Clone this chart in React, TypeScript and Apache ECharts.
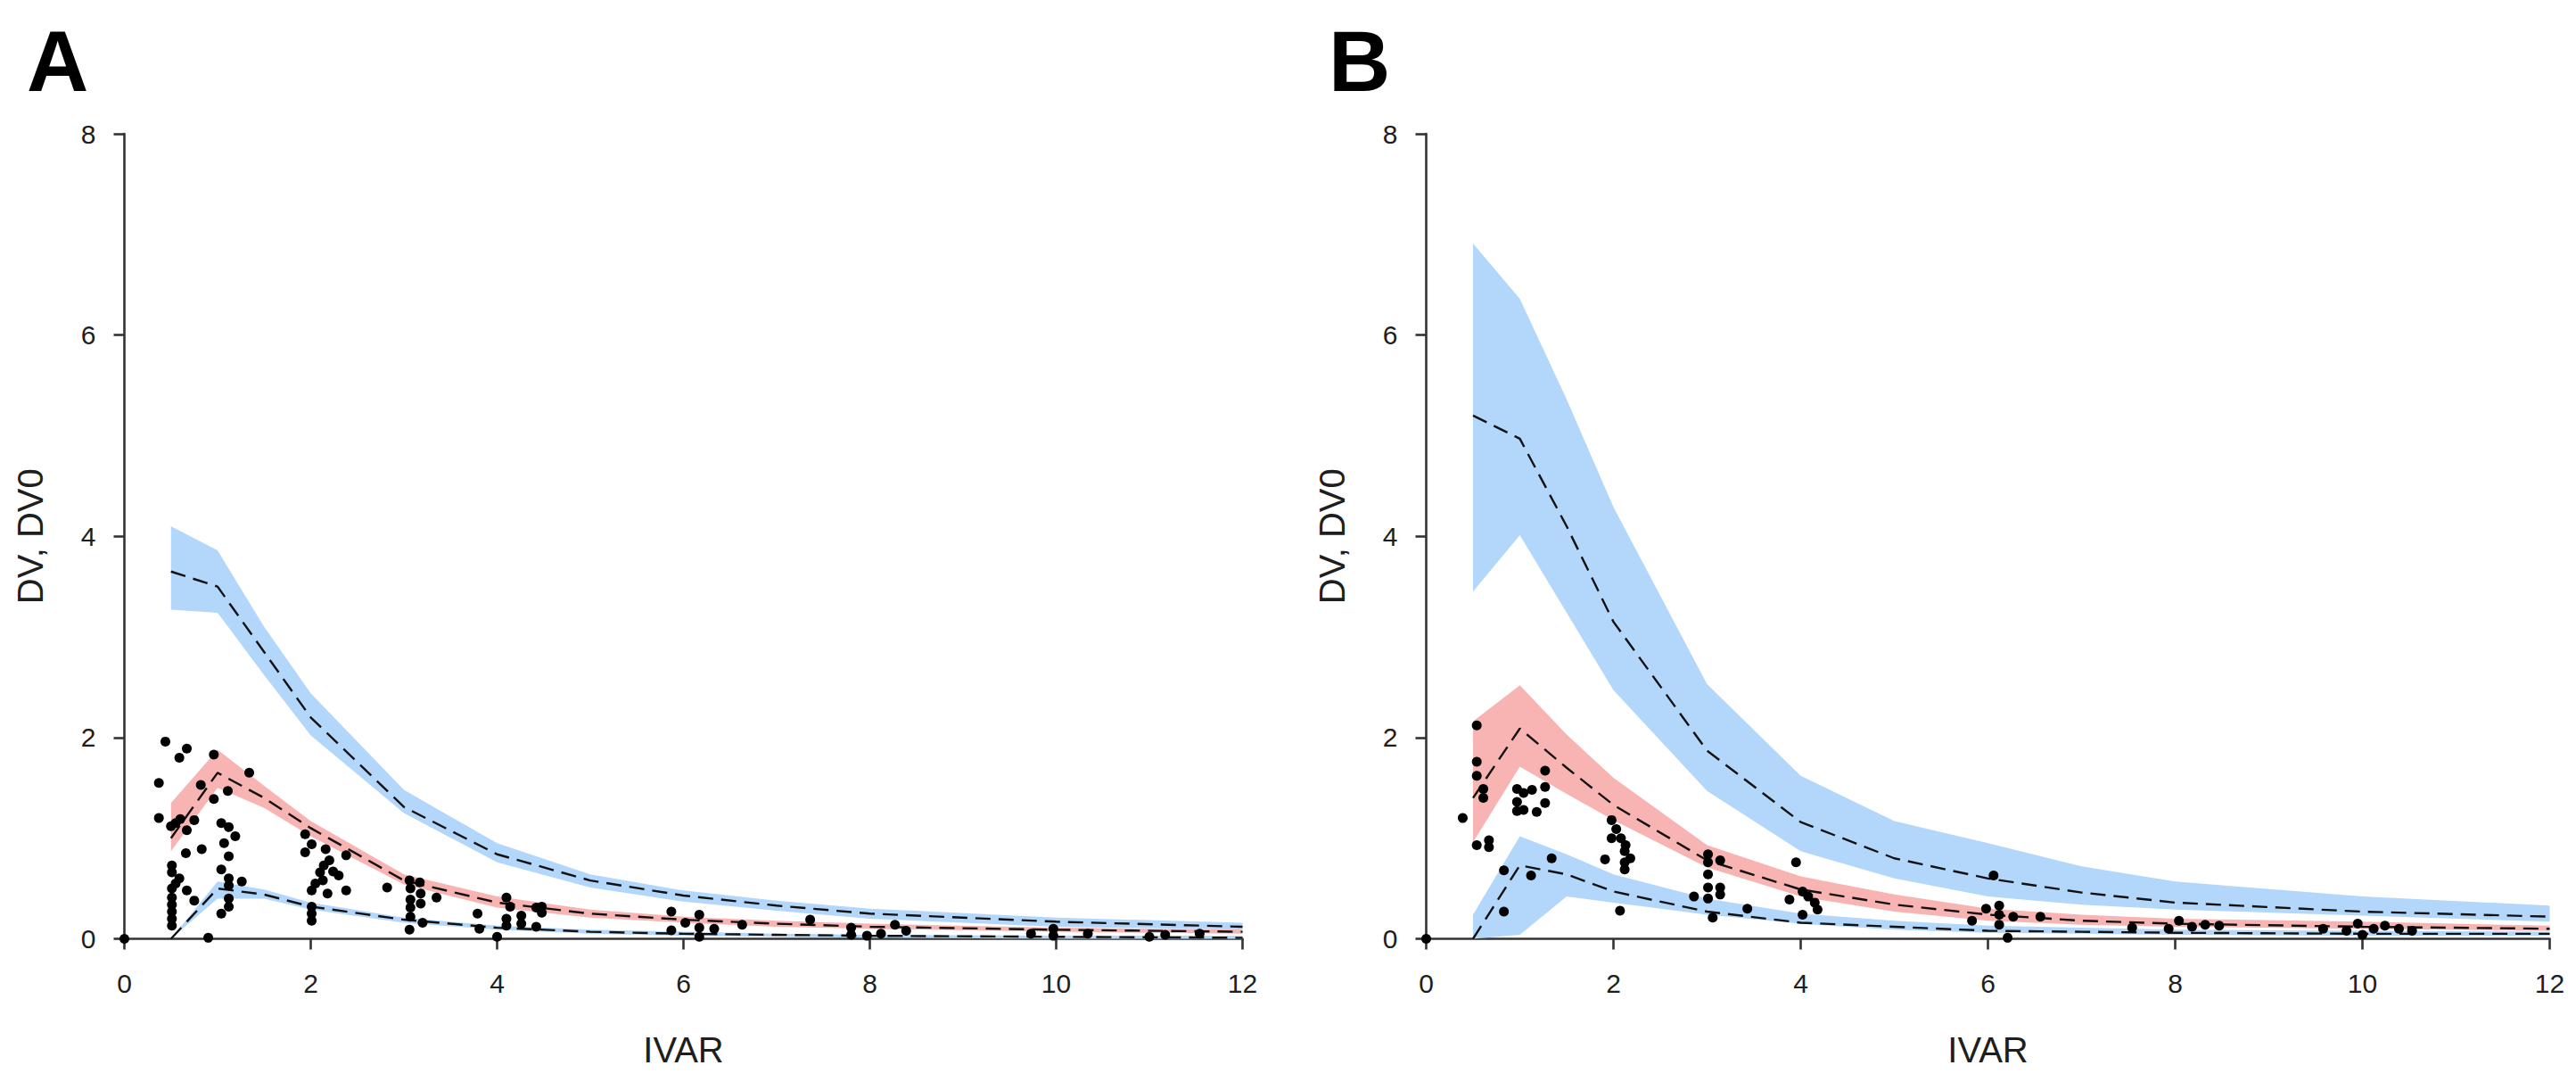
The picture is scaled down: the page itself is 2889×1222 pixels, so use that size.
import React, { useEffect, useRef } from "react";
import * as echarts from "echarts";

const FONT = "'Liberation Sans', Arial, Helvetica, sans-serif";

// Time bins used for the prediction bands / percentile lines
const X_BINS = [0.5, 1, 1.5, 2, 3, 4, 5, 6, 7, 8, 10, 12];

// Axis ticks
const X_TICKS = [0, 2, 4, 6, 8, 10, 12];
const Y_TICKS = [0, 2, 4, 6, 8];

// ---------- Panel A ----------
const A_UPPER_HI = [4.1, 3.86, 3.1, 2.44, 1.48, 0.95, 0.64, 0.48, 0.38, 0.3, 0.21, 0.16];
const A_UPPER_LO = [3.27, 3.24, 2.62, 2.02, 1.25, 0.76, 0.51, 0.37, 0.28, 0.2, 0.12, 0.09];
const A_UPPER_LINE = [3.65, 3.5, 2.85, 2.2, 1.31, 0.84, 0.58, 0.43, 0.33, 0.25, 0.17, 0.12];

const A_MED_HI = [1.35, 1.88, 1.52, 1.17, 0.64, 0.42, 0.29, 0.22, 0.18, 0.15, 0.11, 0.09];
const A_MED_LO = [0.87, 1.5, 1.3, 1.02, 0.54, 0.31, 0.21, 0.16, 0.12, 0.1, 0.07, 0.05];
const A_MED_LINE = [1.0, 1.65, 1.4, 1.1, 0.58, 0.36, 0.25, 0.19, 0.15, 0.12, 0.09, 0.07];

const A_LOWER_HI = [0.0, 0.57, 0.49, 0.36, 0.21, 0.13, 0.09, 0.07, 0.05, 0.04, 0.03, 0.03];
const A_LOWER_LO = [0.0, 0.4, 0.4, 0.29, 0.16, 0.09, 0.05, 0.03, 0.02, 0.01, 0.0, 0.0];
const A_LOWER_LINE = [0.0, 0.5, 0.44, 0.32, 0.19, 0.11, 0.07, 0.05, 0.04, 0.03, 0.02, 0.01];

const A_OBS = [
  [0, 0],
  [0.44, 1.96], [0.67, 1.89], [0.59, 1.8], [0.96, 1.83], [0.37, 1.55], [1.34, 1.65], [0.82, 1.53],
  [1.11, 1.47], [0.96, 1.39], [0.37, 1.2], [0.6, 1.19], [0.75, 1.18], [0.5, 1.12], [0.55, 1.15],
  [0.67, 1.08], [1.04, 1.15], [1.12, 1.11], [1.19, 1.02], [0.83, 0.89], [0.66, 0.85], [1.12, 0.82],
  [0.51, 0.73], [0.51, 0.66], [1.04, 0.69], [0.59, 0.6], [1.26, 0.57], [1.12, 0.53], [0.67, 0.48],
  [0.75, 0.38], [0.51, 0.41], [0.51, 0.34], [1.12, 0.32], [1.04, 0.25], [0.51, 0.2], [0.51, 0.13],
  [0.9, 0.01], [1.12, 0.6], [0.51, 0.5], [0.51, 0.27], [1.12, 0.4], [1.07, 0.95], [0.55, 0.55],
  [1.94, 1.04], [2.01, 0.94], [1.94, 0.86], [2.16, 0.89], [2.38, 0.83], [2.14, 0.73], [2.1, 0.66],
  [2.24, 0.67], [2.3, 0.63], [2.13, 0.58], [2.38, 0.48], [2.01, 0.48], [2.18, 0.45], [2.01, 0.32],
  [2.01, 0.25], [2.01, 0.18], [2.82, 0.51], [2.2, 0.78], [2.05, 0.55],
  [3.06, 0.58], [3.17, 0.56], [3.07, 0.39], [3.18, 0.35], [3.35, 0.41], [3.07, 0.31], [3.07, 0.22],
  [3.2, 0.16], [3.06, 0.09], [3.79, 0.25], [3.81, 0.1], [3.07, 0.5], [3.18, 0.45],
  [4.1, 0.41], [4.14, 0.32], [4.26, 0.23], [4.42, 0.31], [4.1, 0.2], [4.1, 0.13], [4.26, 0.15],
  [4.42, 0.12], [4.0, 0.02], [4.48, 0.32], [4.48, 0.26],
  [5.87, 0.27], [5.87, 0.085], [6.02, 0.16], [6.17, 0.24], [6.17, 0.11], [6.17, 0.02], [6.33, 0.1],
  [6.63, 0.14], [7.36, 0.19], [7.8, 0.11], [7.8, 0.04], [7.97, 0.03], [8.12, 0.05], [8.27, 0.14],
  [8.39, 0.08], [9.73, 0.05], [9.97, 0.1], [9.97, 0.03], [10.34, 0.05], [11.0, 0.02], [11.17, 0.04],
  [11.54, 0.05],
];

// ---------- Panel B ----------
const B_UPPER_HI = [6.91, 6.36, 5.36, 4.29, 2.53, 1.62, 1.17, 0.95, 0.72, 0.57, 0.42, 0.33];
const B_UPPER_LO = [3.45, 4.01, 3.24, 2.47, 1.47, 0.87, 0.6, 0.42, 0.34, 0.29, 0.23, 0.17];
const B_UPPER_LINE = [5.2, 4.97, 4.1, 3.15, 1.87, 1.16, 0.8, 0.6, 0.46, 0.36, 0.27, 0.22];

const B_MED_HI = [2.16, 2.52, 2.03, 1.6, 0.93, 0.62, 0.44, 0.3, 0.24, 0.2, 0.17, 0.13];
const B_MED_LO = [0.96, 1.71, 1.44, 1.18, 0.71, 0.42, 0.27, 0.18, 0.14, 0.12, 0.1, 0.08];
const B_MED_LINE = [1.4, 2.09, 1.7, 1.33, 0.78, 0.49, 0.34, 0.24, 0.18, 0.15, 0.12, 0.1];

const B_LOWER_HI = [0.24, 1.02, 0.84, 0.64, 0.4, 0.25, 0.18, 0.13, 0.11, 0.09, 0.08, 0.07];
const B_LOWER_LO = [0.0, 0.04, 0.42, 0.36, 0.24, 0.15, 0.09, 0.06, 0.05, 0.04, 0.03, 0.03];
const B_LOWER_LINE = [0.0, 0.73, 0.64, 0.47, 0.27, 0.16, 0.12, 0.08, 0.07, 0.06, 0.05, 0.05];

const B_OBS = [
  [0, 0],
  [0.54, 2.12], [0.54, 1.76], [0.54, 1.62], [0.61, 1.49], [0.61, 1.4], [0.39, 1.2], [0.54, 0.93],
  [0.67, 0.98], [0.67, 0.91], [0.97, 1.49], [1.04, 1.45], [1.13, 1.48], [0.97, 1.36], [0.97, 1.27],
  [1.04, 1.28], [1.18, 1.26], [1.27, 1.67], [1.27, 1.51], [1.27, 1.35], [1.34, 0.8], [0.83, 0.68],
  [1.12, 0.63], [0.83, 0.27],
  [1.98, 1.18], [2.03, 1.09], [1.98, 1.0], [2.08, 1.0], [2.13, 0.93], [2.12, 0.87], [2.18, 0.8],
  [2.12, 0.76], [2.12, 0.69], [1.91, 0.79], [2.07, 0.28],
  [3.01, 0.84], [3.01, 0.76], [3.14, 0.78], [3.01, 0.64], [3.01, 0.51], [3.14, 0.51], [3.14, 0.44],
  [3.01, 0.4], [2.86, 0.42], [3.06, 0.21], [3.43, 0.3],
  [3.95, 0.76], [3.88, 0.39], [4.02, 0.47], [4.08, 0.42], [4.15, 0.36], [4.18, 0.29], [4.02, 0.24],
  [5.83, 0.18], [5.98, 0.3], [6.06, 0.63], [6.12, 0.33], [6.12, 0.24], [6.12, 0.14], [6.21, 0.01],
  [6.27, 0.22], [6.56, 0.22], [7.54, 0.11], [7.93, 0.1], [8.04, 0.18], [8.18, 0.12], [8.32, 0.14],
  [8.47, 0.13], [9.58, 0.1], [9.83, 0.08], [9.95, 0.15], [10.0, 0.04], [10.12, 0.1], [10.24, 0.13],
  [10.39, 0.1], [10.53, 0.08],
];

const BLUE = "#b3d6fb";
const RED = "#f8b3b3";
const LINE = "#111111";
const AXIS = "#333333";
const TEXT = "#1e1e1e";

function band(idx: number, lo: number[], hi: number[], color: string) {
  return {
    type: "custom",
    xAxisIndex: idx,
    yAxisIndex: idx,
    silent: true,
    z: 1,
    data: X_BINS.map((x, i) => [x, lo[i], hi[i]]),
    encode: { x: 0, y: [1, 2] },
    renderItem: (params: any, api: any) => {
      if (params.dataIndex !== 0) return null;
      const pts: number[][] = [];
      for (let i = 0; i < X_BINS.length; i++) pts.push(api.coord([X_BINS[i], hi[i]]));
      for (let i = X_BINS.length - 1; i >= 0; i--) pts.push(api.coord([X_BINS[i], lo[i]]));
      return { type: "polygon", shape: { points: pts }, style: { fill: color } };
    },
  };
}

function dashed(idx: number, vals: number[]) {
  return {
    type: "line",
    xAxisIndex: idx,
    yAxisIndex: idx,
    silent: true,
    z: 3,
    symbol: "none",
    data: X_BINS.map((x, i) => [x, vals[i]]),
    lineStyle: { color: LINE, width: 2.4, type: [17, 9] },
  };
}

function obs(idx: number, pts: number[][]) {
  return {
    type: "scatter",
    xAxisIndex: idx,
    yAxisIndex: idx,
    silent: true,
    z: 4,
    clip: false,
    symbol: "circle",
    symbolSize: 11,
    itemStyle: { color: "#000", opacity: 1 },
    data: pts,
  };
}

function xAxis(idx: number) {
  return {
    gridIndex: idx,
    type: "value",
    min: X_TICKS[0],
    max: X_TICKS[X_TICKS.length - 1],
    interval: X_TICKS[1] - X_TICKS[0],
    name: "IVAR",
    nameLocation: "middle",
    nameGap: 104,
    nameTextStyle: { fontSize: 40, color: TEXT, fontFamily: FONT },
    axisLine: { show: true, onZero: false, lineStyle: { color: AXIS, width: 2.6 } },
    axisTick: { show: true, length: 12, lineStyle: { color: AXIS, width: 2.6 } },
    axisLabel: { fontSize: 30, color: TEXT, margin: 35, fontFamily: FONT, showMinLabel: true, showMaxLabel: true },
    splitLine: { show: false },
  };
}

function yAxis(idx: number) {
  return {
    gridIndex: idx,
    type: "value",
    min: Y_TICKS[0],
    max: Y_TICKS[Y_TICKS.length - 1],
    interval: Y_TICKS[1] - Y_TICKS[0],
    name: "DV, DV0",
    nameLocation: "middle",
    nameGap: 86,
    nameTextStyle: { fontSize: 40, color: TEXT, fontFamily: FONT },
    axisLine: { show: true, onZero: false, lineStyle: { color: AXIS, width: 2.6 } },
    axisTick: { show: true, length: 12, lineStyle: { color: AXIS, width: 2.6 } },
    axisLabel: { fontSize: 30, color: TEXT, margin: 32, fontFamily: FONT, showMinLabel: true, showMaxLabel: true },
    splitLine: { show: false },
  };
}

export default function App() {
  const ref = useRef<HTMLDivElement>(null);
  useEffect(() => {
    if (!ref.current) return;
    const chart = echarts.init(ref.current, undefined, { renderer: "svg" });
    chart.setOption({
      animation: false,
      backgroundColor: "#ffffff",
      grid: [
        { left: 139.5, right: 2889 - 1393.5, top: 150, bottom: 1222 - 1052.5 },
        { left: 1599.5, right: 2889 - 2859.5, top: 150, bottom: 1222 - 1052.5 },
      ],
      xAxis: [xAxis(0), xAxis(1)],
      yAxis: [yAxis(0), yAxis(1)],
      graphic: [
        {
          type: "text",
          left: 30,
          top: 20,
          style: { text: "A", fontSize: 96, fontWeight: "bold", fontFamily: FONT, fill: "#000" },
        },
        {
          type: "text",
          left: 1490,
          top: 20,
          style: { text: "B", fontSize: 96, fontWeight: "bold", fontFamily: FONT, fill: "#000" },
        },
      ],
      series: [
        band(0, A_UPPER_LO, A_UPPER_HI, BLUE),
        band(0, A_LOWER_LO, A_LOWER_HI, BLUE),
        band(0, A_MED_LO, A_MED_HI, RED),
        dashed(0, A_UPPER_LINE),
        dashed(0, A_MED_LINE),
        dashed(0, A_LOWER_LINE),
        obs(0, A_OBS),
        band(1, B_UPPER_LO, B_UPPER_HI, BLUE),
        band(1, B_LOWER_LO, B_LOWER_HI, BLUE),
        band(1, B_MED_LO, B_MED_HI, RED),
        dashed(1, B_UPPER_LINE),
        dashed(1, B_MED_LINE),
        dashed(1, B_LOWER_LINE),
        obs(1, B_OBS),
      ],
    });
    return () => chart.dispose();
  }, []);
  return (
    <div
      ref={ref}
      style={{ position: "fixed", left: 0, top: 0, width: "2889px", height: "1222px", background: "#fff" }}
    />
  );
}
